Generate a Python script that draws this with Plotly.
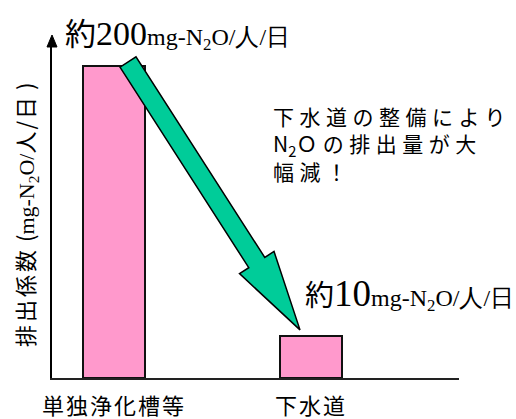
import plotly.graph_objects as go
import math

# ---- data ----
categories = ["単独浄化槽等", "下水道"]
bar_heights = [200, 27]          # schematic bar heights
label_values = ["200", "10"]     # values written in the annotations
unit_text = "mg-N<sub>2</sub>O/人/日"
y_title_main = "排出係数"
message_lines = ["下水道の整備により", "N<sub>2</sub>Ｏの排出量が大", "幅減！"]

# ---- layout geometry ----
FW, FH = 516, 419
L, R, T, B = 52, 57, 46, 41
W, H = FW - L - R, FH - T - B
xr = [-0.3147, 1.7513]
yr = [0, 200 * 332 / 312]

def xpx(v):
    return L + (v - xr[0]) / (xr[1] - xr[0]) * W

def ypx(v):
    return T + H - (v - yr[0]) / (yr[1] - yr[0]) * H

def px2paper(x, y):
    return (x - L) / W, (T + H - y) / H

def path_from_px(pts):
    s = ""
    for i, (x, y) in enumerate(pts):
        px, py = px2paper(x, y)
        s += ("M" if i == 0 else "L") + f"{px:.5f},{py:.5f} "
    return s + "Z"

fig = go.Figure()
fig.add_trace(go.Bar(
    x=[0, 1], y=bar_heights, width=0.31,
    marker=dict(color="#FF99CC", line=dict(color="#111111", width=2)),
    hoverinfo="skip",
))

# ---- big green arrow from bar 1 top to bar 2 top ----
tail = (xpx(0) + 14, ypx(bar_heights[0]) - 4)
tip = (xpx(1) - 11, ypx(bar_heights[1]) - 6)
dx, dy = tip[0] - tail[0], tip[1] - tail[1]
ln = math.hypot(dx, dy)
ux, uy = dx / ln, dy / ln
nx, ny = -uy, ux  # normal
sw, hw, hl = 9.5, 20.5, 80
j = (tip[0] - ux * hl, tip[1] - uy * hl)
pts = [
    (tail[0] + nx * sw, tail[1] + ny * sw),
    (j[0] + nx * sw, j[1] + ny * sw),
    (j[0] + nx * hw, j[1] + ny * hw),
    tip,
    (j[0] - nx * hw, j[1] - ny * hw),
    (j[0] - nx * sw, j[1] - ny * sw),
    (tail[0] - nx * sw, tail[1] - ny * sw),
]
shapes = [
    dict(type="path", xref="paper", yref="paper", path=path_from_px(pts),
         fillcolor="#00CC99", line=dict(color="#000000", width=1.5), layer="above"),
    # y-axis arrowhead
    dict(type="path", xref="paper", yref="paper",
         path=path_from_px([(L - 5, T + 1), (L, 35), (L + 5, T + 1)]),
         fillcolor="#000000", line=dict(color="#000000", width=1), layer="above"),
]

CJK = "Noto Sans CJK JP"
SERIF = "Liberation Serif"

def px_ann(text, x, y, size=20, **kw):
    px, py = px2paper(x, y)
    d = dict(text=text, x=px, y=py, xref="paper", yref="paper", showarrow=False,
             font=dict(family=CJK, size=size, color="#000000"))
    d.update(kw)
    return d

def sp(s, ls):
    return f'<span style="letter-spacing:{ls}px">{s}</span>'

head2, tail2 = message_lines[1].split("Ｏ")
msg = [sp(message_lines[0], 5.5),
       head2 + sp("Ｏ" + tail2, 5.5),
       sp(message_lines[2], 5.5)]

annotations = [
    px_ann(f'<span style="font-size:31px">約</span>'
           f'<span style="font-family:{SERIF};font-size:34px">{label_values[0]}</span>'
           f'<span style="font-family:{SERIF};font-size:24px">{unit_text}</span>',
           63, 32, xanchor="left", yanchor="middle"),
    px_ann(f'<span style="font-size:29px">約</span>'
           f'<span style="font-family:{SERIF};font-size:37px">{label_values[1]}</span>'
           f'<span style="font-family:{SERIF};font-size:24px">{unit_text}</span>',
           303, 293, xanchor="left", yanchor="middle"),
    px_ann("<br>".join(msg), 271, 99, size=21, xanchor="left", yanchor="top", align="left"),
    px_ann(sp(y_title_main, 3) + ' (' +
           f'<span style="font-family:{SERIF};font-size:22px">mg-N<sub>2</sub>O/</span>' +
           sp("人/日", 2) + ' )',
           25, 215, size=22, textangle=-90, xanchor="center", yanchor="middle"),
]

fig.update_layout(
    width=FW, height=FH,
    margin=dict(l=L, r=R, t=T, b=B, pad=0, autoexpand=False),
    paper_bgcolor="white", plot_bgcolor="white",
    showlegend=False,
    bargap=0,
    shapes=shapes,
    annotations=annotations,
    xaxis=dict(range=xr, tickmode="array", tickvals=[0, 1],
               ticktext=[sp(c, 2) for c in categories],
               showgrid=False, zeroline=False, showline=True, linecolor="#222222", linewidth=2,
               ticks="outside", ticklen=8, tickcolor="rgba(0,0,0,0)", automargin=False,
               tickfont=dict(family=CJK, size=22, color="#000000"), fixedrange=True),
    yaxis=dict(range=yr, showgrid=False, zeroline=False, showticklabels=False, automargin=False,
               showline=True, linecolor="#000000", linewidth=2, ticks="", fixedrange=True),
)

fig.write_html("out.html")
